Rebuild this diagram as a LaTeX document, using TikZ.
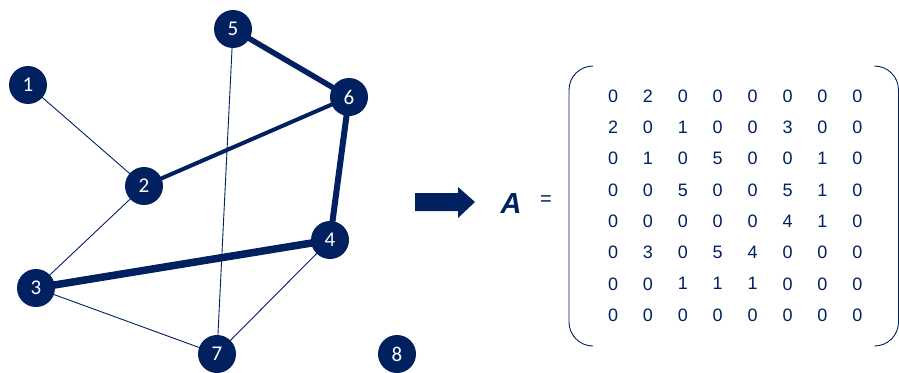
\documentclass[tikz,border=0pt]{standalone}
\usepackage{fontspec}
\setmainfont{Liberation Sans}
\newfontfamily\nodefont{Carlito}
\definecolor{navy}{HTML}{002060}
\begin{document}
\begin{tikzpicture}[x=1pt,y=-1pt,
  vtx/.style={circle,fill=navy,minimum size=38pt,inner sep=0pt,text=white,font=\nodefont\fontsize{21}{21}\selectfont},
  e1/.style={draw=navy,line width=0.9pt},
  e3/.style={draw=navy,line width=4pt},
  e4/.style={draw=navy,line width=5.5pt},
  e5/.style={draw=navy,line width=6pt},
  e6/.style={draw=navy,line width=7.5pt},
  brk/.style={draw=navy,line width=0.9pt,rounded corners=24pt},
  ent/.style={text=navy,font=\fontsize{18}{18}\selectfont,inner sep=0pt}]
\useasboundingbox (0,0) rectangle (899,372);
\coordinate (p1) at (28,85);
\coordinate (p2) at (144,186);
\coordinate (p3) at (36,288);
\coordinate (p4) at (330,240);
\coordinate (p5) at (233,29);
\coordinate (p6) at (349,97);
\coordinate (p7) at (217,354);
\coordinate (p8) at (397,354);
\draw[e1] (p1) -- (p2);
\draw[e1] (p2) -- (p3);
\draw[e1] (p3) -- (p7);
\draw[e1] (p7) -- (p4);
\draw[e1] (p5) -- (p7);
\draw[e3] (p2) -- (p6);
\draw[e4] (p5) -- (p6);
\draw[e5] (p6) -- (p4);
\draw[e6] (p3) -- (p4);
\node[vtx] (n1) at (p1) {1};
\node[vtx] (n2) at (p2) {2};
\node[vtx] (n3) at (p3) {3};
\node[vtx] (n4) at (p4) {4};
\node[vtx] (n5) at (p5) {5};
\node[vtx] (n6) at (p6) {6};
\node[vtx] (n7) at (p7) {7};
\node[vtx] (n8) at (p8) {8};
% block arrow
\fill[navy] (415,193) -- (458,193) -- (458,187) -- (475,202) -- (458,218) -- (458,211) -- (415,211) -- cycle;
% A =
\node[text=navy,font=\bfseries\itshape\fontsize{29}{29}\selectfont,inner sep=0pt,anchor=base] (A) at (511,213) {A};
\node[text=navy,font=\fontsize{20}{20}\selectfont,inner sep=0pt] (eq) at (546,201) {=};
% brackets
\draw[brk] (593,66) -- (569,66) -- (569,346) -- (593,346);
\draw[brk] (876,66) -- (898.5,66) -- (898.5,346) -- (876,346);
% entries
\foreach \row [count=\i from 0] in {{0,2,0,0,0,0,0,0},{2,0,1,0,0,3,0,0},{0,1,0,5,0,0,1,0},{0,0,5,0,0,5,1,0},{0,0,0,0,0,4,1,0},{0,3,0,5,4,0,0,0},{0,0,1,1,1,0,0,0},{0,0,0,0,0,0,0,0}}{
  \foreach \v [count=\j from 0] in \row {
    \node[ent] (m\i\j) at (613+34.9*\j, 96+31.3*\i) {\v};
  }
}
\end{tikzpicture}
\end{document}
